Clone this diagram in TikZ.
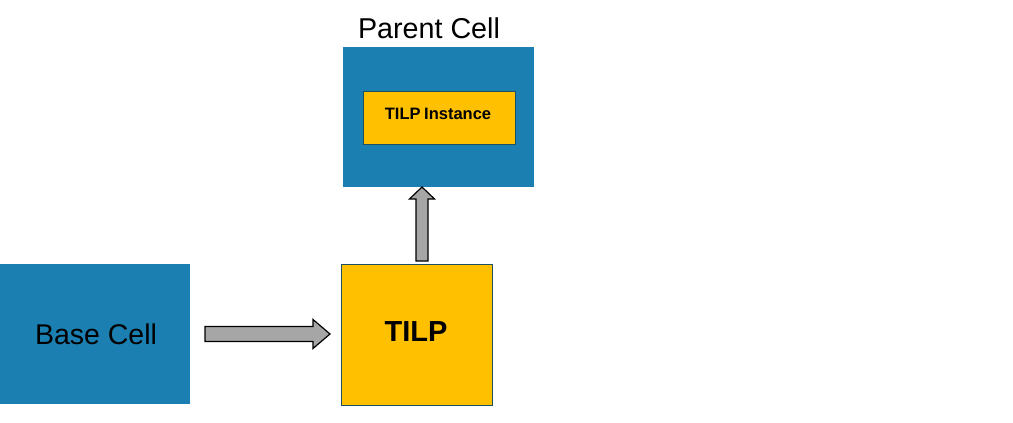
\documentclass[tikz,border=0pt]{standalone}
\usepackage{fontspec}
\setmainfont{Liberation Sans}
\usetikzlibrary{calc}
\definecolor{cellblue}{RGB}{27,127,178}
\definecolor{tilpyellow}{RGB}{255,192,0}
\definecolor{tilpedge}{RGB}{30,80,100}
\definecolor{arrowgray}{RGB}{166,166,166}
\begin{document}
\begin{tikzpicture}[x=1pt,y=-1pt,
  bluebox/.style={fill=cellblue, draw=none, inner sep=0pt, outer sep=0pt},
  yellowbox/.style={fill=tilpyellow, draw=tilpedge, line width=0.8pt, inner sep=0pt, outer sep=0pt},
  fatarrow/.style={fill=arrowgray, draw=black, line width=1.2pt, line join=miter}]
\useasboundingbox (0,0) rectangle (1013,423);
% boxes
\node[bluebox, minimum width=190pt, minimum height=140pt] (base) at (95,334) {};
\node[font=\fontsize{28.5}{30}\selectfont] (basetext) at (96,334) {Base Cell};
\node[yellowbox, minimum width=151pt, minimum height=141pt] (tilp) at (416.5,334.5) {};
\node[font=\bfseries\fontsize{29}{30}\selectfont] (tilptext) at (416,332) {TILP};
\node[bluebox, minimum width=191pt, minimum height=140pt] (parent) at (438.5,117) {};
\node[font=\fontsize{28.7}{30}\selectfont] (parenttext) at (429,28) {Parent Cell};
\node[yellowbox, minimum width=152pt, minimum height=53pt] (inst) at (439,117.5) {};
\node[font=\bfseries\fontsize{16.5}{18}\selectfont] (insttext) at (438,114) {TILP\kern-1pt{} Instance};
% right arrow from base to tilp
\coordinate (ra0) at ($(base.east)+(15,0)$);
\coordinate (ra1) at ($(ra0 -| tilp.west)+(-11,0)$);
\draw[fatarrow] ($(ra0)+(0,-7.5)$) -- ($(ra1)+(-17,-7.5)$) -- ($(ra1)+(-17,-14.5)$) -- (ra1)
  -- ($(ra1)+(-17,14.5)$) -- ($(ra1)+(-17,7.5)$) -- ($(ra0)+(0,7.5)$) -- cycle;
% up arrow from tilp to parent
\coordinate (ua0) at ($(tilp.north)+(5.5,-3)$);
\coordinate (ua1) at (ua0 |- parent.south);
\draw[fatarrow] ($(ua0)+(-6,0)$) -- ($(ua1)+(-6,12)$) -- ($(ua1)+(-12.5,12)$) -- (ua1)
  -- ($(ua1)+(12.5,12)$) -- ($(ua1)+(6,12)$) -- ($(ua0)+(6,0)$) -- cycle;
\end{tikzpicture}
\end{document}
